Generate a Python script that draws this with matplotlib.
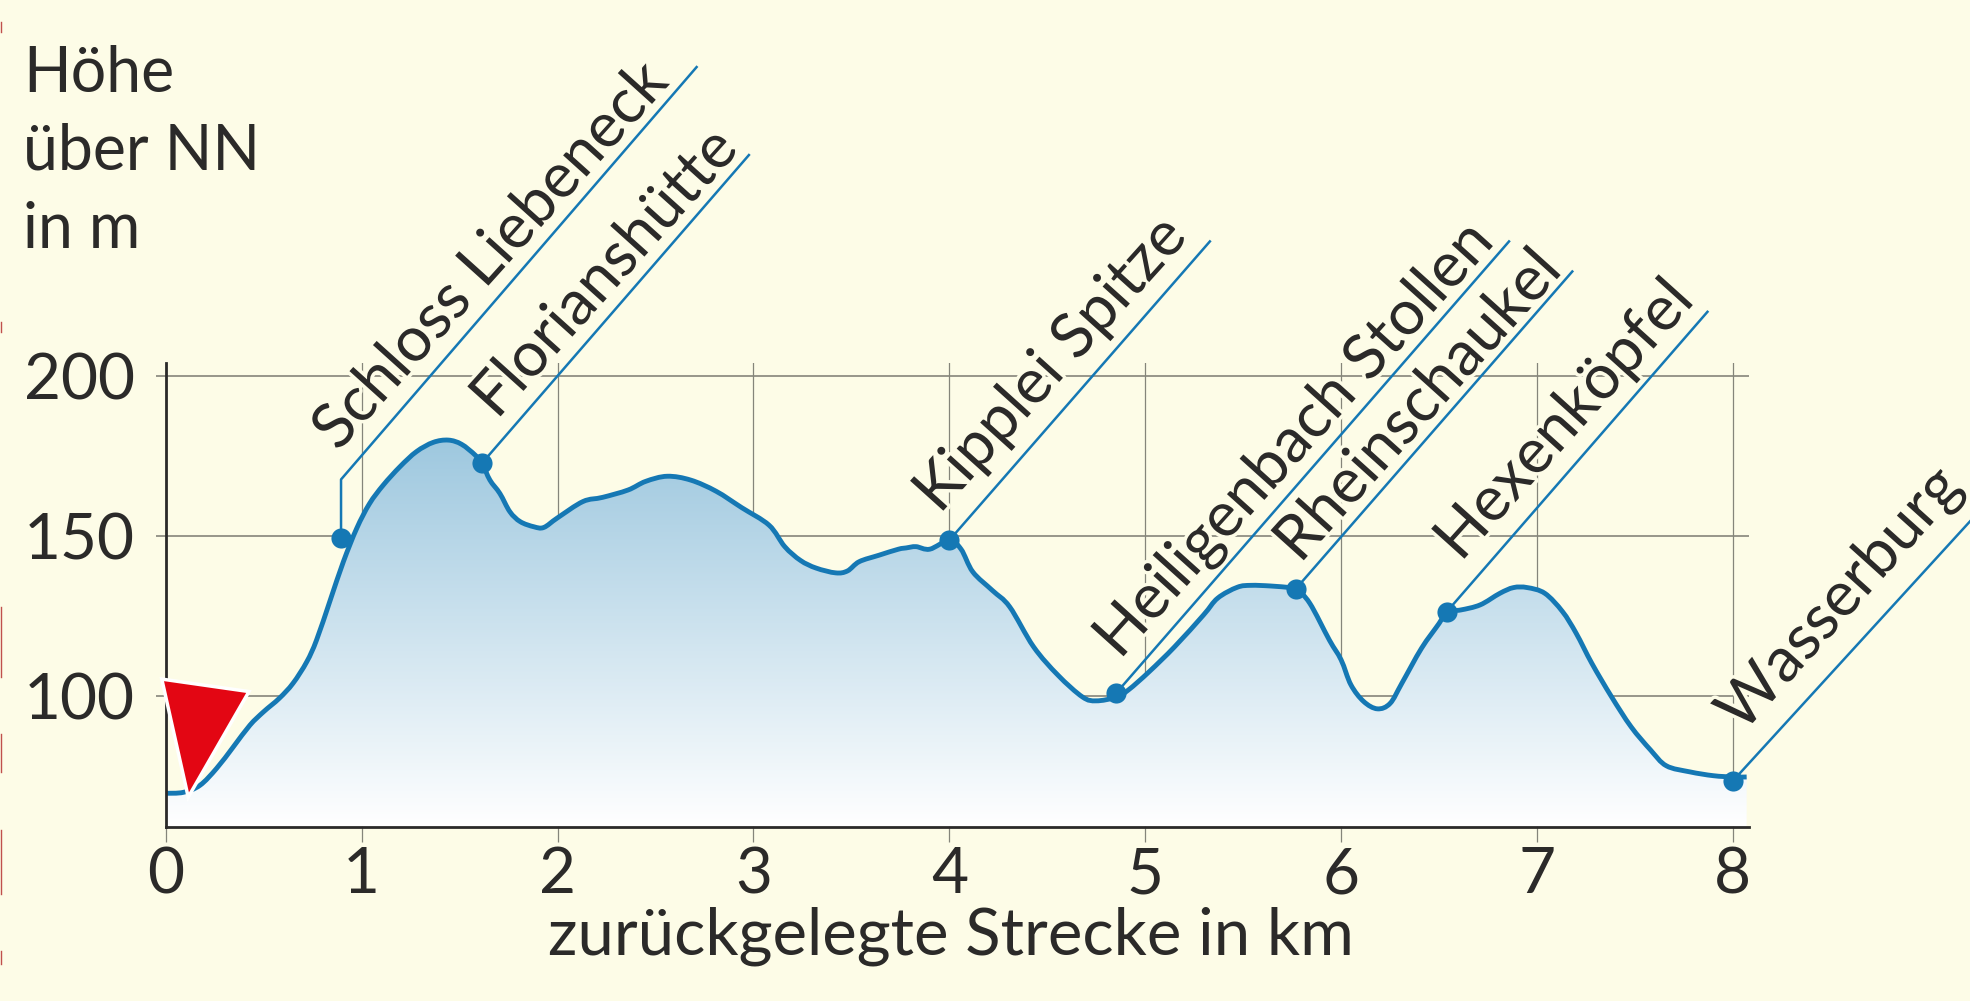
import numpy as np
import matplotlib.pyplot as plt
from matplotlib.lines import Line2D
from matplotlib.patches import Polygon, PathPatch
from matplotlib.path import Path
import matplotlib.patheffects as pe

plt.rcParams['font.family'] = ['Lato', 'DejaVu Sans']

# route profile
km = [0, 0.09, 0.175, 0.26, 0.345, 0.43, 0.5, 0.58, 0.65, 0.72, 0.77, 0.84, 0.907, 0.975, 1.04, 1.11,
      1.196, 1.28, 1.366, 1.443, 1.51, 1.58, 1.616, 1.655, 1.706, 1.757, 1.81, 1.88, 1.93, 2.0, 2.13,
      2.23, 2.36, 2.45, 2.56, 2.68, 2.81, 2.94, 3.08, 3.16, 3.24, 3.32, 3.42, 3.48, 3.54, 3.64, 3.74,
      3.78, 3.83, 3.9, 4.0, 4.06, 4.12, 4.22, 4.308, 4.43, 4.555, 4.68, 4.75, 4.85, 4.914, 5.02, 5.15,
      5.297, 5.37, 5.47, 5.54, 5.64, 5.74, 5.77, 5.84, 5.94, 6.0, 6.05, 6.115, 6.185, 6.25, 6.31, 6.41,
      6.5, 6.54, 6.61, 6.71, 6.81, 6.88, 6.95, 7.04, 7.13, 7.2, 7.28, 7.38, 7.48, 7.58, 7.66, 7.78, 7.9,
      8.0, 8.07]
hoehe = [69.5, 69.8, 72, 77.3, 84, 90.8, 95, 99.2, 103.9, 110.6, 117.4, 129.9, 141.9, 152.3, 160, 165.8,
         171.6, 176.3, 179.2, 179.9, 178.6, 175.2, 172.5, 167.4, 163.2, 157.5, 154.4, 152.8, 152.6, 155.6, 160.7,
         162, 164.3, 167, 168.6, 167.4, 163.9, 158.8, 153.3, 146.6, 142.3, 139.9, 138.4, 139, 141.9, 143.9, 145.8,
         146.2, 146.6, 145.8, 148.6, 145.8, 138.7, 132.9, 127.8, 115.3, 106.4, 99.6, 98.4, 99.5, 101.8, 107.5, 115.3,
         125.2, 130.5, 133.9, 134.5, 134.3, 133.8, 133.5, 128.9, 117.4, 111.2, 103.4, 98.2, 95.9, 97.6, 103.9, 114.8,
         122.6, 126.3, 126.8, 128.4, 132, 133.8, 133.8, 132, 126.3, 119.5, 110.1, 99.7, 90.3, 83, 78.1, 76.2, 75,
         74.6, 74.6]

# places on the route
orte = ['Schloss Liebeneck', 'Florianshütte', 'Kipplei Spitze', 'Heiligenbach Stollen',
        'Rheinschaukel', 'Hexenköpfel', 'Wasserburg']
ort_km = [0.895, 1.616, 4.0, 4.85, 5.77, 6.54, 8.0]
ort_hoehe = [149.3, 172.8, 148.6, 100.7, 133.5, 126.3, 73.4]
# end of each leader line
linie_km = [2.71, 2.977, 5.33, 6.857, 7.18, 7.87, 9.21]
linie_hoehe = [296.5, 269, 242, 242, 232.6, 220, 154.5]
# start of each slanted label
text_km = [0.88, 1.69, 3.95, 4.87, 5.79, 6.61, 8.05]
text_hoehe = [176, 186, 156.5, 111, 141, 141.5, 88]

xticks = [0, 1, 2, 3, 4, 5, 6, 7, 8]
yticks = [100, 150, 200]

bg = '#fdfce7'
blau = '#1578b4'
dunkel = '#2b2a29'
grau = '#85857a'
fs = 46


# bezier path through the read points, so the line is not drawn with corners
def glatt(x, y):
    p = np.column_stack([x, y])
    verts = [p[0]]
    codes = [Path.MOVETO]
    for i in range(len(p)-1):
        a = p[max(i-1, 0)]
        d = p[min(i+2, len(p)-1)]
        verts += [p[i] + (p[i+1]-a)/6, p[i+1] - (d-p[i])/6, p[i+1]]
        codes += [Path.CURVE4, Path.CURVE4, Path.CURVE4]
    return verts, codes


fig = plt.figure(figsize=(19.7, 10.01), dpi=100, facecolor=bg)
ax = fig.add_axes([165.7/1970, 1-826.7/1001, (1749-165.7)/1970, (826.7-363)/1001])
ax.set_facecolor(bg)

for s in ['top', 'right']:
    ax.spines[s].set_visible(False)
for s in ['left', 'bottom']:
    ax.spines[s].set_linewidth(2)
    ax.spines[s].set_color(dunkel)
    ax.spines[s].set_zorder(6)

ax.set_xticks(xticks)
ax.set_yticks(yticks)
ax.tick_params(axis='x', length=11, width=0.9, color=grau, pad=3, labelsize=fs, labelcolor=dunkel)
ax.tick_params(axis='y', length=7, width=1.2, color=grau, pad=15, labelsize=fs, labelcolor=dunkel)
ax.xaxis.grid(True, color=grau, lw=0.9, zorder=1)
ax.yaxis.grid(True, color=grau, lw=1.2, zorder=1)
ax.set_axisbelow(True)

# gradient under the curve
grad = np.linspace(0, 1, 256).reshape(-1, 1)
farbe = np.array([0x9e, 0xc8, 0xdf]) * (1-grad[..., None]) + np.array([0xff, 0xff, 0xff]) * grad[..., None]
im = ax.imshow(farbe/255, extent=[0, 8.07, 59.06, 180], origin='upper', aspect='auto', zorder=2)
ax.set_xlim(0, 8.082)
ax.set_ylim(59.06, 204)
verts, codes = glatt(km, hoehe)
rand = Path(verts + [(8.07, 59.06), (0, 59.06), (0, 59.06)], codes + [Path.LINETO, Path.LINETO, Path.CLOSEPOLY])
im.set_clip_path(rand, transform=ax.transData)

ax.add_patch(PathPatch(Path(verts, codes), fill=False, edgecolor=blau, lw=3.5, joinstyle='round',
                       capstyle='butt', zorder=3))

# leader lines and labels
for i in range(len(orte)):
    if i == 0:
        ax.plot([ort_km[i], ort_km[i], linie_km[i]], [ort_hoehe[i], 167.6, linie_hoehe[i]],
                color=blau, lw=1.8, clip_on=False, zorder=4)
    else:
        ax.plot([ort_km[i], linie_km[i]], [ort_hoehe[i], linie_hoehe[i]],
                color=blau, lw=1.8, clip_on=False, zorder=4)
    ax.text(text_km[i], text_hoehe[i], orte[i], fontsize=45, color=dunkel, rotation=48,
            rotation_mode='anchor', ha='left', va='baseline', clip_on=False, zorder=3.5,
            path_effects=[pe.withStroke(linewidth=5, foreground=bg)])
ax.plot(ort_km, ort_hoehe, 'o', color=blau, ms=14.5, mew=0, clip_on=False, zorder=5)

# start marker
ax.add_patch(Polygon([(-0.02, 105.2), (0.425, 101.3), (0.115, 68.3)], closed=True, facecolor='#e30613',
                     edgecolor='white', lw=2.5, clip_on=False, zorder=7))

# axis titles
ytitel = ['Höhe', 'über NN', 'in m']
ytitel_y = [92, 170, 248]
for t, y in zip(ytitel, ytitel_y):
    fig.text(23/1970, 1-y/1001, t, fontsize=45, color=dunkel, ha='left', va='baseline')
fig.text(951/1970, 1-955/1001, 'zurückgelegte Strecke in km', fontsize=47, color=dunkel, ha='center', va='baseline')

# faint red bits on the left edge of the scan
rand_y0 = [22, 322, 607, 734, 830, 951]
rand_y1 = [32, 332, 677, 772, 894, 964]
for y0, y1 in zip(rand_y0, rand_y1):
    fig.add_artist(Line2D([0.0005, 0.0005], [1-y0/1001, 1-y1/1001], color='#c0504d', lw=1))

fig.savefig('out.png', dpi=100, facecolor=bg)
